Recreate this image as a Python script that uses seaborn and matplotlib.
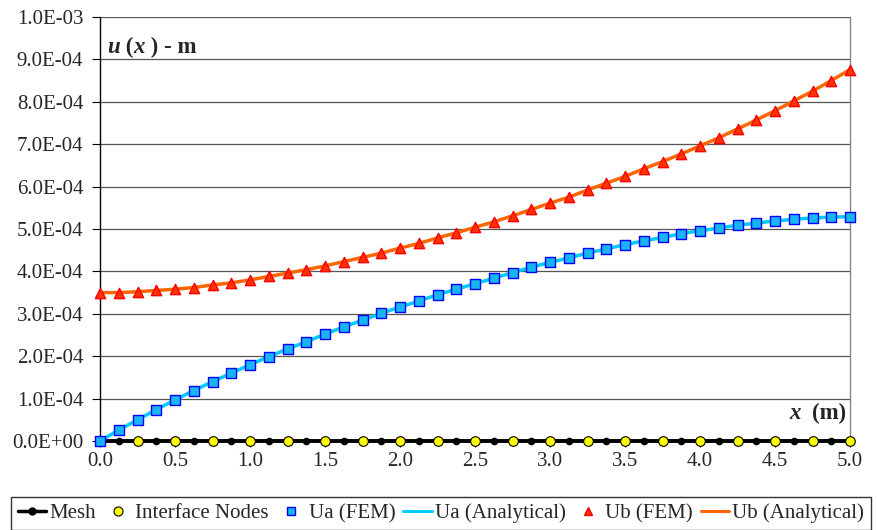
import numpy as np
import pandas as pd
import matplotlib
matplotlib.use("Agg")
import matplotlib.pyplot as plt
from matplotlib.lines import Line2D
from matplotlib.ticker import FuncFormatter, MultipleLocator
import seaborn as sns

# ---- data ----
x_mesh = [0.0, 0.125, 0.25, 0.375, 0.5, 0.625, 0.75, 0.875, 1.0, 1.125, 1.25, 1.375,
          1.5, 1.625, 1.75, 1.875, 2.0, 2.125, 2.25, 2.375, 2.5, 2.625, 2.75, 2.875,
          3.0, 3.125, 3.25, 3.375, 3.5, 3.625, 3.75, 3.875, 4.0, 4.125, 4.25, 4.375,
          4.5, 4.625, 4.75, 4.875, 5.0]
x_interface = [0.0, 0.25, 0.5, 0.75, 1.0, 1.25, 1.5, 1.75, 2.0, 2.25, 2.5, 2.75,
               3.0, 3.25, 3.5, 3.75, 4.0, 4.25, 4.5, 4.75, 5.0]
ua_e4 = [0.0, 0.26, 0.50, 0.74, 0.97, 1.19, 1.40, 1.60, 1.80, 1.99, 2.17, 2.34,
         2.52, 2.69, 2.85, 3.01, 3.16, 3.30, 3.45, 3.58, 3.71, 3.84, 3.97, 4.10,
         4.21, 4.32, 4.43, 4.53, 4.63, 4.72, 4.80, 4.89, 4.96, 5.02, 5.09, 5.14,
         5.19, 5.23, 5.26, 5.28, 5.29]
ub_e4 = [3.50, 3.50, 3.52, 3.55, 3.58, 3.62, 3.68, 3.73, 3.80, 3.88, 3.96, 4.04,
         4.13, 4.23, 4.33, 4.43, 4.55, 4.66, 4.79, 4.91, 5.04, 5.17, 5.31, 5.46,
         5.61, 5.75, 5.92, 6.08, 6.24, 6.42, 6.59, 6.77, 6.96, 7.15, 7.36, 7.57,
         7.79, 8.02, 8.25, 8.50, 8.76]

df = pd.DataFrame({"x": x_mesh,
                   "ua": np.array(ua_e4) * 1e-4,
                   "ub": np.array(ub_e4) * 1e-4,
                   "zero": np.zeros(len(x_mesh))})
df_if = pd.DataFrame({"x": x_interface, "zero": np.zeros(len(x_interface))})

sns.set_style("white")
plt.rcParams["font.family"] = ["Liberation Serif", "DejaVu Serif"]

fig = plt.figure(figsize=(8.77, 5.30), dpi=100)
ax = fig.add_axes([100 / 877, 89 / 530, 750 / 877, 424 / 530])

UA_LINE = "#00CCFF"
UA_FACE = "#18B4F4"
UA_EDGE = "#0000FF"
UB_LINE = "#FF6600"
UB_FACE = "#FF3300"
UB_EDGE = "#FF0000"

# gridlines
ax.set_ylim(0, 1e-3)
ax.set_xlim(0, 5)
ax.yaxis.set_major_locator(MultipleLocator(1e-4))
ax.xaxis.set_major_locator(MultipleLocator(0.5))
ax.grid(axis="y", color="#555555", lw=0.9)
ax.set_axisbelow(True)

# mesh line
sns.lineplot(data=df, x="x", y="zero", color="black", lw=2.8, ax=ax, clip_on=False, zorder=3)
sns.scatterplot(data=df, x="x", y="zero", color="black", marker="o", s=30,
                edgecolor="black", linewidth=0, ax=ax, clip_on=False, zorder=4)
sns.scatterplot(data=df_if, x="x", y="zero", color="#FFFF00", marker="o", s=48,
                edgecolor="black", linewidth=0.8, ax=ax, clip_on=False, zorder=5)

# Ua
sns.lineplot(data=df, x="x", y="ua", color=UA_LINE, lw=2.5, ax=ax, clip_on=False, zorder=6)
sns.scatterplot(data=df, x="x", y="ua", color=UA_FACE, marker="s", s=44,
                edgecolor=UA_EDGE, linewidth=1.0, ax=ax, clip_on=False, zorder=7)
# Ub
sns.lineplot(data=df, x="x", y="ub", color=UB_LINE, lw=2.5, ax=ax, clip_on=False, zorder=6)
sns.scatterplot(data=df, x="x", y="ub", color=UB_FACE, marker="^", s=55,
                edgecolor=UB_EDGE, linewidth=1.0, ax=ax, clip_on=False, zorder=7)

ax.set_xlabel("")
ax.set_ylabel("")
ax.yaxis.set_major_formatter(FuncFormatter(lambda v, p: f"{v:.1E}"))
ax.xaxis.set_major_formatter(FuncFormatter(lambda v, p: f"{v:.1f}"))
ax.tick_params(axis="y", which="major", left=True, direction="out", length=6,
               width=0.8, color="black", labelsize=15, pad=6)
ax.tick_params(axis="x", which="major", bottom=True, direction="out", length=4,
               width=0.8, color="black", labelsize=15, pad=4)

ax.spines["left"].set_color("black")
ax.spines["left"].set_linewidth(1.0)
ax.spines["bottom"].set_color("black")
ax.spines["right"].set_color("#888888")
ax.spines["right"].set_linewidth(1.0)
ax.spines["top"].set_visible(False)

# axis annotation texts
fs = 16.5
t1 = ax.text(0.01, 0.903, "u", transform=ax.transAxes, fontsize=fs,
             fontweight="bold", fontstyle="italic", va="bottom", ha="left")
t2 = ax.annotate(" (", xy=(1, 0), xycoords=t1, fontsize=fs, fontweight="bold",
                 va="bottom", ha="left")
t3 = ax.annotate("x", xy=(1, 0), xycoords=t2, fontsize=fs, fontweight="bold",
                 fontstyle="italic", va="bottom", ha="left")
t4 = ax.annotate(" ) - m", xy=(1, 0), xycoords=t3, fontsize=fs, fontweight="bold",
                 va="bottom", ha="left")

s2 = ax.text(0.995, 0.04, "(m)", transform=ax.transAxes, fontsize=fs,
             fontweight="bold", va="bottom", ha="right")
s1 = ax.annotate("x  ", xy=(0, 0), xycoords=s2, fontsize=fs, fontweight="bold",
                 fontstyle="italic", va="bottom", ha="right")

# legend
handles = [
    Line2D([], [], color="black", lw=2.5, marker="o", markersize=5,
           markerfacecolor="black", markeredgecolor="black"),
    Line2D([], [], color="none", marker="o", markersize=6.5,
           markerfacecolor="#FFFF00", markeredgecolor="black", markeredgewidth=0.8),
    Line2D([], [], color="none", marker="s", markersize=5.5,
           markerfacecolor=UA_FACE, markeredgecolor=UA_EDGE, markeredgewidth=1.0),
    Line2D([], [], color=UA_LINE, lw=2.2),
    Line2D([], [], color="none", marker="^", markersize=6,
           markerfacecolor=UB_FACE, markeredgecolor=UB_EDGE, markeredgewidth=1.0),
    Line2D([], [], color=UB_LINE, lw=2.2),
]
labels = ["Mesh", "Interface Nodes", "Ua (FEM)", "Ua (Analytical)",
          "Ub (FEM)", "Ub (Analytical)"]
leg = fig.legend(handles, labels, loc="upper center", bbox_to_anchor=(0.503, 0.0625),
                 ncol=6, fontsize=15, frameon=True, fancybox=False,
                 edgecolor="black", handlelength=1.35, handletextpad=0.15,
                 columnspacing=0.4, borderpad=0.32, borderaxespad=0)
leg.get_frame().set_linewidth(1.0)

fig.savefig("out.png", dpi=100)
